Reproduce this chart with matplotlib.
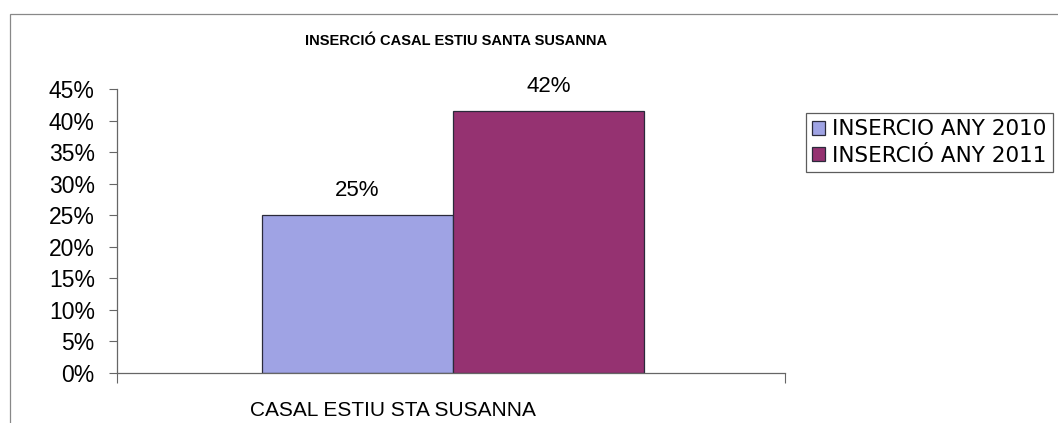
import matplotlib.pyplot as plt
from matplotlib.patches import Rectangle
from matplotlib.ticker import PercentFormatter

series = ["INSERCIO ANY 2010", "INSERCIÓ ANY 2011"]
values = [0.25, 0.415]
labels = ["25%", "42%"]
colors = ["#9fa3e4", "#953271"]
category = "CASAL ESTIU STA SUSANNA"

plt.rcParams['font.family'] = ['Liberation Sans', 'DejaVu Sans']

fig = plt.figure(figsize=(10.58, 4.23), dpi=100)
ax = fig.add_axes([117/1058, 1 - 373/423, (785-117)/1058, (373-89)/423])

# outer chart frame (left and top edges visible)
fig.add_artist(Rectangle((10/1058, -0.05), 1.1, (1.05 - 14/423), transform=fig.transFigure,
                         fill=False, edgecolor='#888888', lw=0.9))

bar_w = (453 - 262) / (785 - 117)
x0 = (262 - 117) / (785 - 117)
for i, (name, v, lab, c) in enumerate(zip(series, values, labels, colors)):
    x = x0 + i * bar_w
    ax.bar(x, v, width=bar_w, align='edge', color=c, edgecolor='#2a2a3a', lw=0.9, label=name)
    ax.text(x + bar_w / 2, v + 0.022, lab, ha='center', va='bottom', fontsize=16)

ax.set_xlim(0, 1)
ax.set_ylim(0, 0.45)
ax.set_yticks([i * 0.05 for i in range(10)])
ax.yaxis.set_major_formatter(PercentFormatter(1.0, decimals=0))
ax.tick_params(axis='y', labelsize=16.5, length=6, width=0.8, color='#666666', pad=10)
ax.set_xticks([0, 1])
ax.set_xticklabels([])
ax.tick_params(axis='x', length=7, width=0.8, color='#666666')
ax.text(0.413, -0.1, category, transform=ax.transAxes, ha='center', va='top', fontsize=15)

for s in ['top', 'right']:
    ax.spines[s].set_visible(False)
for s in ['left', 'bottom']:
    ax.spines[s].set_color('#666666')
    ax.spines[s].set_linewidth(0.9)

fig.text(456/1058, 1 - 41/423, "INSERCIÓ CASAL ESTIU SANTA SUSANNA", ha='center', va='center',
         fontsize=10.5, fontweight='bold')

leg = fig.legend(loc='upper left', bbox_to_anchor=(806/1058, 1 - 113/423), frameon=True,
                 fancybox=False, edgecolor='#333333', prop={'family': 'DejaVu Sans', 'size': 15.5},
                 handlelength=0.6, handleheight=0.6, handletextpad=0.3, borderpad=0.3,
                 labelspacing=0.3, borderaxespad=0)
leg.get_frame().set_linewidth(0.9)

fig.savefig('out.png', dpi=100)
